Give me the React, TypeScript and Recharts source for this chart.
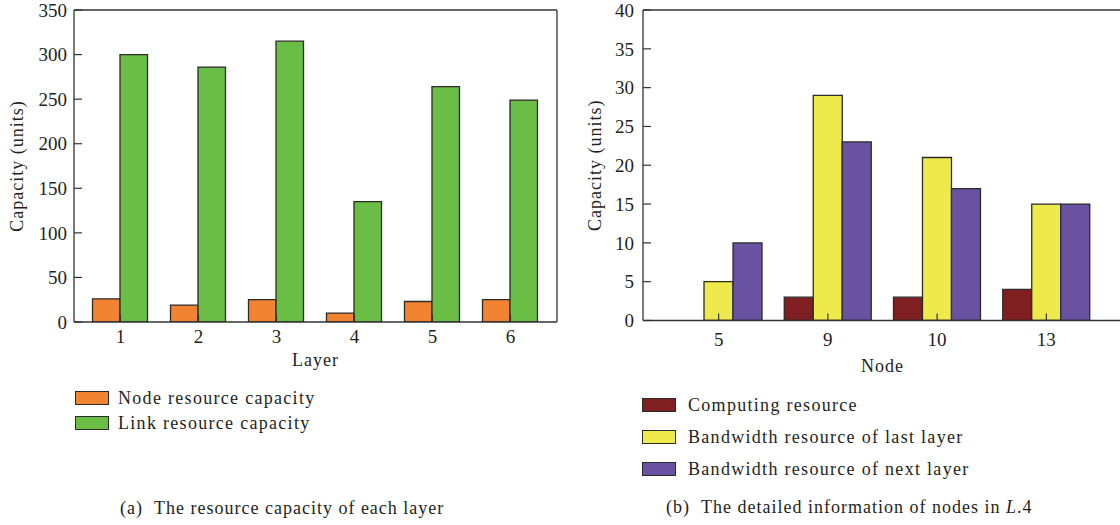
import React from 'react';
import { BarChart, Bar, XAxis, YAxis, Label } from 'recharts';

// ---------- data: panel (a) ----------
const layers = ['1', '2', '3', '4', '5', '6'];
const nodeResourceCapacity = [26, 19, 25, 10, 23, 25];
const linkResourceCapacity = [300, 286, 315, 135, 264, 249];
const leftYTicks = [0, 50, 100, 150, 200, 250, 300, 350];
const leftSeriesNames = ['Node resource capacity', 'Link resource capacity'];

// ---------- data: panel (b) ----------
const nodes = ['5', '9', '10', '13'];
const computingResource = [0, 3, 3, 4];
const bandwidthLastLayer = [5, 29, 21, 15];
const bandwidthNextLayer = [10, 23, 17, 15];
const rightYTicks = [0, 5, 10, 15, 20, 25, 30, 35, 40];
const rightSeriesNames = [
  'Computing resource',
  'Bandwidth resource of last layer',
  'Bandwidth resource of next layer',
];

// decorative frame ticks (top / right spines)
const frameMajor = [2, 4, 6, 8];
const frameMinor = [1, 3, 5, 7, 9];

// ---------- styles ----------
const FONT = "'Liberation Serif', 'Times New Roman', serif";
const TEXT = '#231f20';
const AXIS = '#333333';
const BAR_STROKE = '#2b2b2b';
const leftColors = ['#F28431', '#6BBE45'];
const rightColors = ['#7F1F22', '#EFEA4B', '#6A52A2'];

const leftData = layers.map((l, i) => ({
  layer: l,
  node: nodeResourceCapacity[i],
  link: linkResourceCapacity[i],
}));
const rightData = nodes.map((n, i) => ({
  node: n,
  comp: computingResource[i],
  last: bandwidthLastLayer[i],
  next: bandwidthNextLayer[i],
}));

const THIN = 0.01;
const tickStyle = { fill: TEXT, fontSize: 19, fontFamily: FONT };
const labelStyle = {
  fill: TEXT,
  fontSize: 18,
  fontFamily: FONT,
  letterSpacing: '1px',
  textAnchor: 'middle' as const,
};

function frame() {
  return [
    <XAxis
      key="tMaj"
      xAxisId="tMaj"
      orientation="top"
      type="number"
      domain={[0, 10]}
      ticks={frameMajor}
      allowDataOverflow
      height={THIN}
      tick={false}
      tickSize={-6}
      axisLine={{ stroke: AXIS, strokeWidth: 1.3 }}
      tickLine={{ stroke: AXIS, strokeWidth: 1.2 }}
    />,
    <XAxis
      key="tMin"
      xAxisId="tMin"
      orientation="top"
      type="number"
      domain={[0, 10]}
      ticks={frameMinor}
      allowDataOverflow
      height={THIN}
      tick={false}
      tickSize={-3}
      axisLine={false}
      tickLine={{ stroke: AXIS, strokeWidth: 1.2 }}
    />,
    <YAxis
      key="rMaj"
      yAxisId="rMaj"
      orientation="right"
      type="number"
      domain={[0, 10]}
      ticks={frameMajor}
      allowDataOverflow
      width={THIN}
      tick={false}
      tickSize={-6}
      axisLine={{ stroke: AXIS, strokeWidth: 1.3 }}
      tickLine={{ stroke: AXIS, strokeWidth: 1.2 }}
    />,
    <YAxis
      key="rMin"
      yAxisId="rMin"
      orientation="right"
      type="number"
      domain={[0, 10]}
      ticks={frameMinor}
      allowDataOverflow
      width={THIN}
      tick={false}
      tickSize={-3}
      axisLine={false}
      tickLine={{ stroke: AXIS, strokeWidth: 1.2 }}
    />,
  ];
}

function LegendBox({
  names,
  colors,
  left,
  top,
  rowGap,
  textLeft,
}: {
  names: string[];
  colors: string[];
  left: number;
  top: number;
  rowGap: number;
  textLeft: number;
}) {
  return (
    <>
      {names.map((n, i) => (
        <div
          key={n}
          style={{
            position: 'absolute',
            left,
            top: top + i * rowGap - 10,
            height: 20,
            display: 'flex',
            alignItems: 'center',
            whiteSpace: 'nowrap',
          }}
        >
          <div
            style={{
              width: 32,
              height: 12,
              background: colors[i],
              border: `1.5px solid ${BAR_STROKE}`,
              boxSizing: 'content-box',
            }}
          />
          <span
            style={{
              marginLeft: textLeft,
              fontFamily: FONT,
              fontSize: 18,
              letterSpacing: '1.3px',
              color: TEXT,
              lineHeight: '20px',
            }}
          >
            {n}
          </span>
        </div>
      ))}
    </>
  );
}

export default function App() {
  return (
    <div
      style={{
        position: 'absolute',
        left: 0,
        top: 0,
        width: 1120,
        height: 525,
        overflow: 'hidden',
        background: '#fff',
      }}
    >
      {/* Panel (a) */}
      <div style={{ position: 'absolute', left: 0, top: 0 }}>
        <BarChart
          width={580}
          height={380}
          data={leftData}
          margin={{ top: 10, right: 23, bottom: 28, left: 74 }}
          barGap={0}
          barSize={27.5}
        >
          <Bar
            dataKey="node"
            name={leftSeriesNames[0]}
            fill={leftColors[0]}
            stroke={BAR_STROKE}
            strokeWidth={1.3}
            isAnimationActive={false}
          />
          <Bar
            dataKey="link"
            name={leftSeriesNames[1]}
            fill={leftColors[1]}
            stroke={BAR_STROKE}
            strokeWidth={1.3}
            isAnimationActive={false}
          />
          <XAxis
            dataKey="layer"
            height={30}
            interval={0}
            padding={{ left: 7.5, right: 7.5 }}
            tickSize={-7}
            tickMargin={14.5}
            tick={tickStyle}
            axisLine={{ stroke: AXIS, strokeWidth: 1.3 }}
            tickLine={{ stroke: AXIS, strokeWidth: 1.2 }}
          >
            <Label value="Layer" position="bottom" offset={1} style={labelStyle} />
          </XAxis>
          <YAxis
            width={THIN}
            domain={[0, 350]}
            ticks={leftYTicks}
            interval={0}
            allowDataOverflow
            tickSize={-8}
            tickMargin={15}
            tick={tickStyle}
            axisLine={{ stroke: AXIS, strokeWidth: 1.3 }}
            tickLine={{ stroke: AXIS, strokeWidth: 1.2 }}
          >
            <Label
              value="Capacity (units)"
              angle={-90}
              position="insideLeft"
              offset={-57}
              style={labelStyle}
            />
          </YAxis>
          {frame()}
        </BarChart>
      </div>

      {/* Panel (b) */}
      <div style={{ position: 'absolute', left: 570, top: 0 }}>
        <BarChart
          width={570}
          height={380}
          data={rightData}
          margin={{ top: 10, right: 18, bottom: 29.5, left: 73 }}
          barGap={0}
          barSize={29}
        >
          <Bar
            dataKey="comp"
            name={rightSeriesNames[0]}
            fill={rightColors[0]}
            stroke={BAR_STROKE}
            strokeWidth={1.3}
            isAnimationActive={false}
          />
          <Bar
            dataKey="last"
            name={rightSeriesNames[1]}
            fill={rightColors[1]}
            stroke={BAR_STROKE}
            strokeWidth={1.3}
            isAnimationActive={false}
          />
          <Bar
            dataKey="next"
            name={rightSeriesNames[2]}
            fill={rightColors[2]}
            stroke={BAR_STROKE}
            strokeWidth={1.3}
            isAnimationActive={false}
          />
          <XAxis
            dataKey="node"
            height={30}
            interval={0}
            padding={{ left: 21, right: 21 }}
            tickSize={-7}
            tickMargin={19.5}
            tick={tickStyle}
            axisLine={{ stroke: AXIS, strokeWidth: 1.3 }}
            tickLine={{ stroke: AXIS, strokeWidth: 1.2 }}
          >
            <Label value="Node" position="bottom" offset={9} style={labelStyle} />
          </XAxis>
          <YAxis
            width={THIN}
            domain={[0, 40]}
            ticks={rightYTicks}
            interval={0}
            allowDataOverflow
            tickSize={-8}
            tickMargin={17}
            tick={tickStyle}
            axisLine={{ stroke: AXIS, strokeWidth: 1.3 }}
            tickLine={{ stroke: AXIS, strokeWidth: 1.2 }}
          >
            <Label
              value="Capacity (units)"
              angle={-90}
              position="insideLeft"
              offset={-48}
              style={labelStyle}
            />
          </YAxis>
          {frame()}
        </BarChart>
      </div>

      {/* Legends */}
      <LegendBox
        names={leftSeriesNames}
        colors={leftColors}
        left={75}
        top={398}
        rowGap={25}
        textLeft={9}
      />
      <LegendBox
        names={rightSeriesNames}
        colors={rightColors}
        left={642}
        top={405}
        rowGap={32}
        textLeft={12}
      />

      {/* Captions */}
      <div
        style={{
          position: 'absolute',
          left: 120,
          top: 497,
          fontFamily: FONT,
          fontSize: 18,
          letterSpacing: '1px',
          color: TEXT,
          whiteSpace: 'nowrap',
          lineHeight: '22px',
        }}
      >
        (a)&nbsp;&nbsp;The resource capacity of each layer
      </div>
      <div
        style={{
          position: 'absolute',
          left: 666,
          top: 496,
          fontFamily: FONT,
          fontSize: 18,
          letterSpacing: '1px',
          color: TEXT,
          whiteSpace: 'nowrap',
          lineHeight: '22px',
        }}
      >
        (b)&nbsp;&nbsp;The detailed information of nodes in <i>L</i>.4
      </div>
    </div>
  );
}
